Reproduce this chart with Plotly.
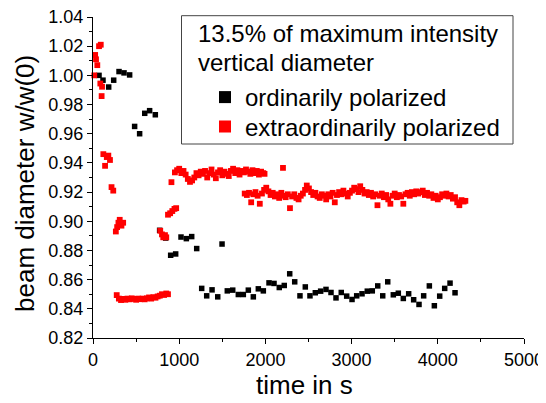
import plotly.graph_objects as go

# ---------------- data ----------------
ord_t = [70, 116, 182, 240, 302, 360, 425, 483, 541, 600, 657, 723, 773, 843, 901, 959,
         1021, 1083, 1145, 1203, 1261, 1319, 1381, 1447, 1497, 1558, 1621, 1686, 1744, 1802,
         1860, 1918, 1976, 2042, 2100, 2161, 2219, 2282, 2340, 2401, 2463, 2517, 2579, 2641,
         2703, 2761, 2819, 2880, 2943, 3005, 3059, 3121, 3182, 3240, 3303, 3361, 3419, 3484,
         3542, 3600, 3662, 3720, 3782, 3836, 3902, 3960, 4022, 4080, 4142, 4200]
ord_v = [1.000, 0.9967, 0.992, 0.9967, 1.0026, 1.0017, 1.0003, 0.965, 0.960, 0.974, 0.9758, 0.973,
         0.8938, 0.8885, 0.8767, 0.8776, 0.8892, 0.8881, 0.8895, 0.8813, 0.854, 0.8489, 0.853,
         0.8482, 0.8844, 0.8523, 0.8528, 0.8498, 0.8498, 0.8528, 0.8482, 0.8537, 0.8523, 0.8578,
         0.8574, 0.8546, 0.856, 0.864, 0.8585, 0.8489, 0.855, 0.8489, 0.851, 0.8521, 0.8533,
         0.8512, 0.8475, 0.8512, 0.8487, 0.8464, 0.8489, 0.8503, 0.8521, 0.8523, 0.8557, 0.8489,
         0.8585, 0.8496, 0.8507, 0.8471, 0.8503, 0.8462, 0.843, 0.8489, 0.8557, 0.8421, 0.8487,
         0.854, 0.8576, 0.851]

ext_t = [15, 25, 35, 50, 70, 90, 85, 105, 100,
         120, 140, 160, 178, 197, 215, 235,
         265, 280, 295, 310, 330, 350,
         275, 300, 325, 350, 375, 400, 425, 450, 475, 500, 525, 550, 575, 600, 625, 650,
         675, 700, 725, 750, 775, 800, 825, 850, 870,
         780, 800, 815, 835, 850,
         870, 895, 920, 945, 965, 910,
         950, 975, 1000, 1025, 1050, 1075, 1100, 1125, 1150, 1175, 1200, 1225, 1250, 1275,
         1300, 1325, 1350, 1375, 1400, 1425, 1450, 1475, 1500, 1525, 1550, 1575, 1600, 1625,
         1650, 1675, 1700, 1725, 1750, 1775, 1800, 1825, 1850, 1875, 1900, 1925, 1950, 1975, 1990,
         2204,
         1760, 1785, 1810, 1835, 1860, 1885, 1910, 1935, 1960, 1985, 2010, 2035, 2060, 2085,
         2110, 2135, 2160, 2185, 2210, 2235, 2260, 2285, 2310, 2335, 2360, 2385, 2410, 2435,
         2460, 2480, 2505, 2530, 2555, 2580, 2605, 2630, 2655, 2680, 2705, 2730, 2755, 2780,
         2805, 2830, 2855, 2880, 2905, 2930, 2955, 2980, 3005, 3030, 3055, 3080, 3100, 3125,
         3150, 3175, 3200, 3225, 3250, 3275, 3300, 3325, 3350, 3375, 3400, 3425, 3450, 3475,
         3500, 3525, 3550, 3575, 3600, 3625, 3650, 3675, 3700, 3725, 3750, 3775, 3800, 3825,
         3850, 3875, 3900, 3925, 3950, 3975, 4000, 4025, 4050, 4075, 4100, 4125, 4150, 4175,
         4200, 4225, 4250, 4275, 4300, 4320]
ext_v = [1.000, 1.014, 1.011, 1.007, 1.020, 1.021, 0.9944, 0.9922, 0.9858,
         0.946, 0.938, 0.944, 0.945, 0.942, 0.9234, 0.921,
         0.893, 0.896, 0.899, 0.901, 0.897, 0.899,
         0.8494, 0.8470, 0.8460, 0.8468, 0.8462, 0.8470, 0.8465, 0.8472, 0.8468, 0.8462, 0.8470,
         0.8466, 0.8470, 0.8465, 0.8472, 0.8478, 0.8470, 0.8480, 0.8476, 0.8485, 0.8490, 0.8500,
         0.8495, 0.8505, 0.8500,
         0.8935, 0.891, 0.889, 0.8905, 0.889,
         0.9045, 0.9055, 0.907, 0.9085, 0.909, 0.9268,
         0.9335, 0.9350, 0.9360, 0.9330, 0.9345, 0.9320, 0.9290, 0.9270, 0.9280, 0.9300, 0.9330,
         0.9315, 0.9340, 0.9325, 0.9345, 0.9300, 0.9330, 0.9355, 0.9320, 0.9295, 0.9335, 0.9350,
         0.9315, 0.9340, 0.9325, 0.9310, 0.9345, 0.9360, 0.9330, 0.9350, 0.9320, 0.9345, 0.9335,
         0.9355, 0.9340, 0.9325, 0.9350, 0.9330, 0.9345, 0.9320, 0.9340, 0.9330, 0.9325,
         0.9366,
         0.9190, 0.9180, 0.9195, 0.9130, 0.9185, 0.9200, 0.9175, 0.9120, 0.9190, 0.9215, 0.9230,
         0.9205, 0.9180, 0.9195, 0.9170, 0.9185, 0.9160, 0.9195, 0.9175, 0.9165, 0.9185, 0.9090,
         0.9170, 0.9185, 0.9160, 0.9150, 0.9175, 0.9190, 0.9215, 0.9245, 0.9225, 0.9200, 0.9180,
         0.9195, 0.9170, 0.9160, 0.9185, 0.9175, 0.9150, 0.9185, 0.9170, 0.9195, 0.9130, 0.9180,
         0.9200, 0.9185, 0.9210, 0.9190, 0.9170, 0.9195, 0.9210, 0.9230, 0.9220, 0.9200, 0.9240,
         0.9215, 0.9190, 0.9200, 0.9180, 0.9195, 0.9170, 0.9185, 0.9110, 0.9175, 0.9190, 0.9165,
         0.9180, 0.9150, 0.9120, 0.9175, 0.9190, 0.9165, 0.9180, 0.9170, 0.9120, 0.9185, 0.9195,
         0.9175, 0.9200, 0.9185, 0.9205, 0.9190, 0.9200, 0.9210, 0.9180, 0.9195, 0.9175, 0.9185,
         0.9160, 0.9175, 0.9150, 0.9165, 0.9185, 0.9175, 0.9190, 0.9170, 0.9180, 0.9155, 0.9165,
         0.9130, 0.9110, 0.9145, 0.9135, 0.9140]

x_ticks = [0, 1000, 2000, 3000, 4000, 5000]
y_ticks = [0.82, 0.84, 0.86, 0.88, 0.90, 0.92, 0.94, 0.96, 0.98, 1.00, 1.02, 1.04]
header_lines = ["13.5% of maximum intensity", "vertical diameter"]
series_names = ["ordinarily polarized", "extraordinarily polarized"]
x_title = "time in s"
y_title = "beam diameter w/w(0)"

FONT = "Liberation Sans, Arial, sans-serif"

fig = go.Figure()
fig.add_trace(go.Scatter(x=ord_t, y=ord_v, mode="markers", name=series_names[0],
                         marker=dict(symbol="square", size=5.5, color="#000000"),
                         cliponaxis=False, legend="legend"))
fig.add_trace(go.Scatter(x=ext_t, y=ext_v, mode="markers", name=series_names[1],
                         marker=dict(symbol="square", size=5.8, color="#ff0000"),
                         cliponaxis=False, legend="legend2"))

# page body adds an 8px offset; compensate
OFF = 8
W, H = 546, 403
REF_L, REF_T, pw, ph = 93, 17, 431, 321
L, T = REF_L - OFF, REF_T - OFF
R = W - L - pw
B = H - T - ph

def px_x(x):
    return (x - REF_L) / pw

def px_y(y):
    return (REF_T + ph - y) / ph

leg_common = dict(bgcolor="rgba(0,0,0,0)", borderwidth=0, font=dict(size=24, family=FONT, color="#000"),
                  xanchor="left", yanchor="middle", itemsizing="constant")
fig.update_layout(
    width=W, height=H,
    margin=dict(l=L, r=R, t=T, b=B, autoexpand=False),
    paper_bgcolor="white", plot_bgcolor="white",
    font=dict(family=FONT, color="#000"),
    showlegend=True,
    legend=dict(x=px_x(205), y=px_y(97.5), **leg_common),
    legend2=dict(x=px_x(205), y=px_y(127), **leg_common),
    xaxis=dict(range=[0, 5000], tickvals=x_ticks, ticktext=[str(v) for v in x_ticks],
               showgrid=False, zeroline=False, showline=True, linecolor="#000", linewidth=1,
               ticks="outside", ticklen=5, tickcolor="#000", ticklabeloverflow="allow",
               minor=dict(dtick=500, ticklen=3, ticks="outside", tickcolor="#000", showgrid=False),
               tickfont=dict(size=18, family=FONT), automargin=False),
    yaxis=dict(range=[0.82, 1.04], tickvals=y_ticks, ticktext=["%.2f" % v for v in y_ticks],
               showgrid=False, zeroline=False, showline=True, linecolor="#000", linewidth=1,
               ticks="outside", ticklen=5, tickcolor="#000", ticklabeloverflow="allow",
               minor=dict(dtick=0.01, tick0=0.82, ticklen=3, ticks="outside", tickcolor="#000",
                          showgrid=False),
               tickfont=dict(size=18, family=FONT), automargin=False),
)

# axis titles
fig.add_annotation(text=x_title, xref="paper", yref="paper", x=px_x(304), y=px_y(385),
                   xanchor="center", yanchor="middle", showarrow=False,
                   font=dict(size=26, family=FONT, color="#000"))
fig.add_annotation(text=y_title, xref="paper", yref="paper", x=px_x(25), y=px_y(184),
                   xanchor="center", yanchor="middle", showarrow=False, textangle=-90,
                   font=dict(size=26, family=FONT, color="#000"))

fig.add_shape(type="rect", xref="paper", yref="paper",
              x0=px_x(181.5), x1=px_x(513), y0=px_y(144), y1=px_y(15.7),
              line=dict(color="#444444", width=1), fillcolor="rgba(0,0,0,0)", layer="above")
for i, txt in enumerate(header_lines):
    fig.add_annotation(text=txt, xref="paper", yref="paper", x=px_x(196), y=px_y(33 + 29 * i),
                       xanchor="left", yanchor="middle", showarrow=False,
                       font=dict(size=24, family=FONT, color="#000"))

fig.write_html("out.html")
